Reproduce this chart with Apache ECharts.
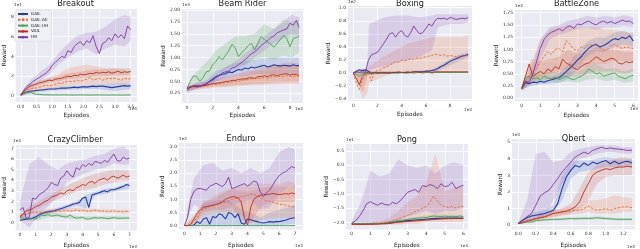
<!DOCTYPE html>
<html><head><meta charset="utf-8">
<script src="https://cdn.jsdelivr.net/npm/echarts@6/dist/echarts.min.js"></script>
<style>html,body{margin:0;padding:0;background:#fff}#c{width:640px;height:249px}</style>
</head><body><div id="c"></div>
<script>
// ---------- shared ----------
const methods = ['GAIL', 'GAIL-AE', 'GAIL-UH', 'VAIL', 'HR'];

// ---------- Breakout (x 1e4, y 1e1) ----------
const breakoutX = [0,0.1,0.2,0.3,0.4,0.5,0.6,0.7,0.8,0.9,1.0,1.1,1.2,1.3,1.4,1.5,1.6,1.7,1.8,1.9,2.0,2.1,2.2,2.3,2.4,2.5,2.6,2.7,2.8,2.9,3.0,3.1,3.2,3.3,3.4,3.5];
const breakoutGAIL = [0.1,0.3,0.4,0.5,0.5,0.55,0.6,0.6,0.65,0.7,0.7,0.72,0.75,0.8,0.8,0.82,0.85,0.9,0.85,0.9,0.95,0.9,0.95,1.0,0.95,1.0,1.0,0.95,0.9,0.85,0.9,0.95,1.0,1.05,1.0,1.05];
const breakoutAE = [0.1,0.4,0.6,0.7,0.8,0.8,0.9,1.0,1.1,1.0,1.1,1.2,1.3,1.25,1.4,1.5,1.45,1.5,1.6,1.5,1.6,1.7,1.9,1.6,1.7,1.8,1.6,1.7,1.8,1.75,1.8,1.7,1.6,1.8,1.7,1.75];
const breakoutUH = [0.1,0.25,0.35,0.4,0.25,0.15,0.15,0.12,0.12,0.11,0.1,0.11,0.1,0.1,0.12,0.1,0.1,0.09,0.1,0.11,0.1,0.1,0.09,0.1,0.1,0.11,0.1,0.1,0.09,0.1,0.1,0.1,0.09,0.1,0.1,0.1];
const breakoutVAIL = [0.1,0.5,0.8,1.0,1.1,1.2,1.35,1.4,1.5,1.6,1.55,1.7,1.75,1.8,1.9,2.0,1.95,2.1,2.05,2.2,2.15,2.2,2.3,2.25,2.4,2.3,2.4,2.35,2.45,2.3,2.4,2.5,2.35,2.45,2.4,2.5];
const breakoutHR = [0.1,0.6,1.0,1.2,1.5,1.7,1.9,2.1,2.3,2.6,3.1,3.4,3.7,4.0,3.9,4.6,4.4,5.0,5.3,5.5,5.1,5.6,5.4,6.1,5.0,4.3,5.3,5.5,5.9,5.6,6.3,5.9,6.2,5.8,7.1,6.7];
const breakoutBandX = [0,0.3,0.6,0.9,1.2,1.5,1.8,2.1,2.4,2.7,3.0,3.3,3.5];
const breakoutGAILLo = [0,0.3,0.4,0.5,0.55,0.6,0.65,0.7,0.7,0.6,0.5,0.6,0.7];
const breakoutGAILHi = [0.2,0.6,0.7,0.8,0.9,1.0,1.05,1.1,1.2,1.2,1.3,1.3,1.3];
const breakoutAELo = [0,0.3,0.5,0.7,0.8,1.0,1.1,1.1,1.2,1.2,1.2,1.2,1.3];
const breakoutAEHi = [0.2,1.2,1.6,1.9,2.2,2.8,3.0,3.2,3.0,2.8,2.8,2.6,2.4];
const breakoutUHLo = [0,0.2,0.1,0.05,0.05,0.05,0.05,0.05,0.05,0.05,0.05,0.05,0.05];
const breakoutUHHi = [0.2,0.45,0.25,0.2,0.18,0.18,0.17,0.17,0.16,0.16,0.16,0.16,0.16];
const breakoutVAILLo = [0,0.7,1.1,1.4,1.5,1.7,1.8,1.9,2.0,2.0,2.1,2.1,2.2];
const breakoutVAILHi = [0.2,1.0,1.5,1.8,2.0,2.3,2.4,2.6,2.7,2.7,2.8,2.8,2.8];
const breakoutHRLo = [0,0.9,1.5,2.2,3.2,3.9,4.5,4.8,4.2,4.8,5.2,5.0,5.6];
const breakoutHRHi = [0.2,1.6,2.4,3.1,4.3,5.3,6.1,6.4,6.5,7.0,7.8,8.2,8.0];
const breakoutXTicks = [0,0.5,1,1.5,2,2.5,3,3.5];
const breakoutYTicks = [0,2,4,6,8];

// ---------- Beam Rider (x 1e3, y 1e3) ----------
const beamX = [0,0.25,0.5,0.75,1,1.25,1.5,1.75,2,2.25,2.5,2.75,3,3.25,3.5,3.75,4,4.25,4.5,4.75,5,5.25,5.5,5.75,6,6.25,6.5,6.75,7,7.25,7.5,7.75,8,8.25,8.5,8.7];
const beamGAIL = [0.35,0.38,0.4,0.38,0.4,0.42,0.45,0.5,0.55,0.6,0.63,0.65,0.66,0.7,0.68,0.72,0.75,0.74,0.78,0.76,0.8,0.78,0.8,0.82,0.84,0.8,0.82,0.85,0.83,0.82,0.84,0.83,0.82,0.85,0.83,0.83];
const beamAE = [0.35,0.37,0.38,0.38,0.39,0.4,0.4,0.42,0.43,0.44,0.45,0.46,0.47,0.48,0.49,0.5,0.5,0.52,0.53,0.54,0.55,0.56,0.56,0.57,0.58,0.57,0.59,0.6,0.59,0.61,0.6,0.62,0.61,0.6,0.62,0.6];
const beamUH = [0.35,0.5,0.62,0.6,0.5,0.58,0.7,0.72,0.85,0.92,1.02,0.95,1.05,1.15,1.28,1.2,1.02,1.1,1.17,1.25,1.3,1.16,1.3,1.44,1.38,1.33,1.28,1.22,1.3,1.38,1.47,1.4,1.23,1.4,1.42,1.44];
const beamVAIL = [0.35,0.38,0.4,0.4,0.4,0.42,0.42,0.44,0.45,0.46,0.47,0.48,0.5,0.5,0.52,0.52,0.54,0.55,0.55,0.57,0.58,0.56,0.6,0.6,0.62,0.6,0.63,0.64,0.62,0.64,0.65,0.66,0.63,0.65,0.64,0.63];
const beamHR = [0.3,0.38,0.4,0.42,0.4,0.43,0.45,0.5,0.52,0.58,0.62,0.68,0.7,0.72,0.78,0.8,0.85,0.9,0.95,1.02,1.08,1.12,1.18,1.25,1.3,1.35,1.42,1.45,1.52,1.55,1.58,1.6,1.72,1.68,1.78,1.63];
const beamBandX = [0,0.75,1.5,2.25,3,3.75,4.5,5.25,6,6.75,7.5,8.1,8.7];
const beamGAILLo = [0.3,0.35,0.4,0.5,0.55,0.6,0.62,0.65,0.65,0.65,0.65,0.65,0.65];
const beamGAILHi = [0.4,0.45,0.52,0.72,0.8,0.88,0.92,0.95,0.98,1.0,1.0,1.0,1.0];
const beamAELo = [0.3,0.32,0.35,0.37,0.38,0.4,0.42,0.42,0.43,0.44,0.45,0.45,0.45];
const beamAEHi = [0.4,0.42,0.45,0.5,0.55,0.6,0.65,0.7,0.75,0.8,0.82,0.85,0.82];
const beamUHLo = [0.3,0.45,0.5,0.65,0.75,0.85,0.85,0.95,1.0,0.95,1.05,1.0,1.1];
const beamUHHi = [0.4,0.7,0.9,1.15,1.3,1.45,1.45,1.5,1.7,1.6,1.8,1.75,1.8];
const beamVAILLo = [0.3,0.35,0.37,0.4,0.4,0.42,0.42,0.45,0.45,0.47,0.48,0.48,0.48];
const beamVAILHi = [0.4,0.45,0.5,0.55,0.6,0.65,0.7,0.75,0.8,0.85,0.88,0.9,0.88];
const beamHRLo = [0.25,0.35,0.4,0.5,0.6,0.72,0.85,1.0,1.15,1.3,1.4,1.5,1.45];
const beamHRHi = [0.35,0.48,0.52,0.65,0.8,0.92,1.08,1.25,1.45,1.6,1.75,1.9,1.85];
const beamXTicks = [0,2,4,6,8];
const beamYTicks = [0.25,0.5,0.75,1,1.25,1.5,1.75,2];

// ---------- Boxing (x 1e3, y 1e2) ----------
const boxingX = [0,0.25,0.5,0.75,1,1.25,1.5,1.75,2,2.25,2.5,2.75,3,3.25,3.5,3.75,4,4.25,4.5,4.75,5,5.25,5.5,5.75,6,6.25,6.5,6.75,7,7.25,7.5,7.75,8,8.25,8.5,8.75,9,9.25,9.5];
const boxingGAIL = [0,0.03,0.05,0.04,0.05,0.03,0.0,0.01,0.0,0.01,0.0,0.01,0.0,0.01,0.01,0.01,0.01,0.01,0.01,0.01,0.02,0.02,0.02,0.02,0.03,0.03,0.04,0.05,0.07,0.1,0.12,0.15,0.18,0.2,0.22,0.24,0.26,0.27,0.29];
const boxingAE = [0,-0.15,-0.25,-0.1,-0.05,0.0,-0.12,0.02,0.04,0.05,0.08,0.1,0.12,0.15,0.18,0.17,0.2,0.19,0.2,0.22,0.21,0.23,0.22,0.24,0.25,0.26,0.27,0.29,0.28,0.27,0.28,0.26,0.27,0.26,0.25,0.26,0.25,0.26,0.27];
const boxingUH = [0,-0.02,-0.05,0.0,-0.02,0,0,0,0,0,0,0,0.01,0,0,0,0.01,0,0,0.01,0,0.01,0.01,0,0.01,0.01,0,0.01,0.01,0.01,0.01,0.01,0.01,0.01,0.01,0.01,0.01,0.01,0.01];
const boxingVAIL = [0,-0.08,-0.18,-0.05,0.0,0.01,-0.02,0.01,0.0,0.01,0.01,0.0,0.01,0.01,0.01,0.02,0.01,0.01,0.02,0.01,0.02,0.02,0.01,0.02,0.02,0.02,0.01,0.02,0.02,0.02,0.02,0.02,0.02,0.02,0.02,0.02,0.02,0.02,0.02];
const boxingHR = [0,0.02,0.01,0.02,0.01,0.2,0.28,0.3,0.32,0.38,0.45,0.52,0.6,0.62,0.55,0.62,0.65,0.58,0.55,0.62,0.72,0.65,0.6,0.62,0.68,0.75,0.72,0.8,0.84,0.83,0.84,0.82,0.85,0.84,0.82,0.83,0.84,0.83,0.85];
const boxingBandX = [0,0.8,1.15,1.3,2.5,3.5,4.5,5.5,6.5,7.0,8.0,9.0,9.5];
const boxingGAILLo = [0,0.02,0.0,0,0,0,0,0,0.01,0.03,0.12,0.2,0.25];
const boxingGAILHi = [0.01,0.07,0.05,0.02,0.02,0.02,0.02,0.03,0.06,0.1,0.22,0.3,0.32];
const boxingAELo = [0,-0.4,-0.3,-0.15,-0.05,0.02,0.03,0.03,0.05,0.05,0.05,0.05,0.05];
const boxingAEHi = [0.02,0.05,0.08,0.1,0.25,0.35,0.45,0.5,0.55,0.55,0.55,0.55,0.58];
const boxingUHLo = [0,-0.06,-0.02,-0.01,-0.01,-0.01,-0.01,0,0,0,0,0,0];
const boxingUHHi = [0.01,0.02,0.02,0.02,0.02,0.02,0.02,0.02,0.02,0.02,0.02,0.02,0.02];
const boxingVAILLo = [0,-0.3,-0.05,-0.02,-0.01,0,0,0,0,0,0,0,0];
const boxingVAILHi = [0.01,0.02,0.03,0.03,0.03,0.03,0.04,0.04,0.04,0.04,0.04,0.04,0.04];
const boxingHRLo = [0,0,0,0.05,0.1,0.15,0.2,0.25,0.35,0.7,0.75,0.75,0.78];
const boxingHRHi = [0.03,0.03,0.05,0.75,0.85,0.88,0.88,0.85,0.88,0.9,0.9,0.9,0.9];
const boxingXTicks = [0,2,4,6,8];
const boxingYTicks = [-0.4,-0.2,0,0.2,0.4,0.6,0.8,1.0];

// ---------- BattleZone (x 1e3, y 1e4) ----------
const battleX = [0,0.2,0.4,0.6,0.8,1.0,1.2,1.4,1.6,1.8,2.0,2.2,2.4,2.6,2.8,3.0,3.2,3.4,3.6,3.8,4.0,4.2,4.4,4.6,4.8,5.0,5.2,5.4,5.6,5.8,6.0];
const battleGAIL = [0.2,0.32,0.3,0.33,0.32,0.35,0.33,0.36,0.38,0.4,0.42,0.48,0.55,0.62,0.7,0.78,0.85,0.95,1.02,1.08,1.1,1.05,1.08,1.12,1.18,1.22,1.2,1.25,1.22,1.28,1.17];
const battleAE = [0.2,0.35,0.45,0.55,0.6,0.75,0.85,0.95,0.9,1.0,1.02,0.95,1.18,1.1,1.0,0.98,1.05,1.02,1.1,1.08,1.12,1.05,0.98,1.0,1.08,1.1,1.05,1.02,1.05,1.03,1.02];
const battleUH = [0.2,0.42,0.45,0.4,0.42,0.38,0.45,0.42,0.4,0.43,0.38,0.42,0.45,0.4,0.38,0.42,0.45,0.5,0.6,0.55,0.5,0.52,0.45,0.48,0.5,0.52,0.45,0.42,0.4,0.45,0.47];
const battleVAIL = [0.2,0.45,0.7,0.45,0.5,0.55,0.5,0.6,0.55,0.65,0.6,0.8,0.72,0.68,0.62,0.58,0.65,0.7,0.72,0.78,0.85,0.8,0.75,0.78,0.82,0.8,0.72,0.7,0.75,0.73,0.75];
const battleHR = [0.2,0.35,0.33,0.5,0.75,1.02,1.2,1.3,1.35,1.38,1.42,1.38,1.45,1.48,1.43,1.52,1.5,1.55,1.58,1.53,1.5,1.55,1.58,1.54,1.57,1.53,1.56,1.6,1.57,1.58,1.53];
const battleBandX = [0,0.5,1,1.5,2,2.5,3,3.5,4,4.5,5,5.5,6];
const battleGAILLo = [0.18,0.25,0.28,0.3,0.32,0.4,0.6,0.85,0.95,0.95,1.05,1.1,1.05];
const battleGAILHi = [0.22,0.35,0.4,0.42,0.5,0.7,0.95,1.15,1.25,1.25,1.35,1.38,1.3];
const battleAELo = [0.15,0.3,0.4,0.5,0.55,0.6,0.6,0.65,0.7,0.7,0.75,0.75,0.75];
const battleAEHi = [0.25,0.7,1.2,1.4,1.45,1.5,1.45,1.45,1.45,1.4,1.4,1.35,1.35];
const battleUHLo = [0.15,0.35,0.32,0.35,0.32,0.35,0.32,0.38,0.4,0.35,0.38,0.32,0.35];
const battleUHHi = [0.25,0.55,0.5,0.55,0.52,0.55,0.55,0.65,0.7,0.6,0.62,0.55,0.6];
const battleVAILLo = [0.15,0.35,0.4,0.4,0.42,0.45,0.45,0.5,0.55,0.55,0.55,0.5,0.55];
const battleVAILHi = [0.25,0.8,0.75,0.8,0.85,1.0,0.9,0.95,1.05,1.0,1.0,0.95,0.95];
const battleHRLo = [0.18,0.28,0.8,1.2,1.3,1.35,1.42,1.45,1.4,1.45,1.45,1.48,1.45];
const battleHRHi = [0.22,0.55,1.2,1.45,1.5,1.58,1.62,1.68,1.65,1.68,1.65,1.7,1.65];
const battleXTicks = [0,1,2,3,4,5,6];
const battleYTicks = [0,0.25,0.5,0.75,1,1.25,1.5,1.75];

// ---------- CrazyClimber (x 1e3, y 1e4) ----------
const crazyX = [0,0.2,0.4,0.6,0.8,1.0,1.2,1.4,1.6,1.8,2.0,2.2,2.4,2.6,2.8,3.0,3.2,3.4,3.6,3.8,4.0,4.2,4.4,4.6,4.8,5.0,5.2,5.4,5.6,5.8,6.0,6.2,6.4,6.6,6.8,7.0];
const crazyGAIL = [0.2,0.25,0.3,0.35,0.4,0.5,0.7,0.85,0.95,1.0,1.05,1.1,1.2,1.3,1.4,1.5,1.6,1.75,1.8,1.9,2.3,2.4,1.4,2.6,2.7,2.8,2.9,3.0,2.9,3.1,3.1,3.2,3.3,3.4,3.6,3.5];
const crazyAE = [0.6,0.7,0.8,0.9,0.95,1.0,0.9,0.95,1.0,1.05,1.1,1.0,1.1,1.05,1.1,1.15,1.05,1.1,1.2,1.1,1.15,1.1,1.05,1.1,1.15,1.1,1.05,1.1,1.0,1.05,1.1,1.0,1.05,1.0,1.05,1.0];
const crazyUH = [0.5,0.4,0.35,0.3,0.35,0.3,0.5,0.7,0.65,0.75,0.6,0.65,0.7,0.6,0.55,0.5,0.7,0.5,0.4,0.45,0.5,0.35,0.3,0.4,0.45,0.4,0.45,0.4,0.35,0.4,0.45,0.4,0.38,0.4,0.42,0.4];
const crazyVAIL = [0.5,0.8,1.1,1.2,1.3,1.5,1.6,1.8,2.0,2.1,2.4,2.5,2.6,2.8,2.7,3.0,3.1,3.0,3.3,3.4,3.6,3.5,3.8,3.9,3.7,4.0,4.1,4.2,4.0,4.3,4.4,4.2,4.3,4.5,4.3,4.4];
const crazyHR = [1.2,1.4,0.4,0.5,2.3,2.2,2.6,2.8,3.0,3.3,3.8,3.6,3.5,4.2,4.4,4.9,4.5,4.3,5.2,5.0,5.5,5.3,5.6,5.4,5.8,5.7,5.6,5.9,5.7,6.1,6.5,5.9,5.8,6.2,6.0,6.1];
const crazyBandX = [0,0.6,1.2,1.8,2.4,3.0,3.6,4.2,4.8,5.4,6.0,6.6,7.0];
const crazyGAILLo = [0.1,0.25,0.5,0.8,1.0,1.3,1.6,1.3,2.5,2.7,2.9,3.1,3.2];
const crazyGAILHi = [0.3,0.45,0.8,1.2,1.4,1.7,2.0,2.6,2.9,3.2,3.3,3.6,3.8];
const crazyAELo = [0.4,0.7,0.75,0.85,0.9,0.95,1.0,0.9,0.95,0.9,0.9,0.85,0.85];
const crazyAEHi = [0.8,1.1,1.1,1.25,1.3,1.35,1.4,1.3,1.3,1.25,1.25,1.2,1.2];
const crazyUHLo = [0.3,0.15,0.2,0.5,0.5,0.35,0.3,0.25,0.3,0.3,0.3,0.3,0.3];
const crazyUHHi = [0.7,0.5,0.7,1.0,0.9,0.8,0.6,0.55,0.6,0.55,0.6,0.55,0.55];
const crazyVAILLo = [0.3,0.9,1.3,1.8,2.2,2.6,2.9,3.1,3.3,3.6,3.8,3.9,3.9];
const crazyVAILHi = [0.7,1.5,2.0,2.5,3.0,3.5,3.9,4.3,4.6,4.8,5.0,5.0,4.9];
const crazyHRLo = [0.2,-0.5,0.8,1.5,2.5,3.8,4.3,4.7,5.0,5.2,5.6,5.5,5.5];
const crazyHRHi = [2.0,5.5,6.2,5.5,5.0,5.6,5.8,6.0,6.3,6.5,7.0,7.2,6.8];
const crazyXTicks = [0,1,2,3,4,5,6,7];
const crazyYTicks = [0,1,2,3,4,5,6,7];

// ---------- Enduro (x 1e3, y 1e2) ----------
const enduroX = [0,0.2,0.4,0.6,0.8,1.0,1.2,1.4,1.6,1.8,2.0,2.2,2.4,2.6,2.8,3.0,3.2,3.4,3.6,3.8,4.0,4.2,4.4,4.6,4.8,5.0,5.2,5.4,5.6,5.8,6.0,6.2,6.4,6.6,6.8,7.0];
const enduroGAIL = [0,0,0,0.02,0.15,0.08,0.25,0.3,0.05,0.35,0.3,0.45,0.4,0.25,0.5,0.45,0.3,0.45,0.1,0.05,0.25,0.22,0.18,0.15,0.12,0.1,0.12,0.15,0.13,0.15,0.15,0.18,0.2,0.25,0.28,0.3];
const enduroAE = [0,0,0.02,0.15,0.3,0.5,0.62,0.68,0.72,0.75,0.8,0.82,0.88,0.9,0.95,1.0,1.02,1.05,1.1,1.12,1.15,1.2,1.18,1.15,1.1,1.0,0.95,0.92,0.88,0.85,0.82,0.8,0.78,0.75,0.72,0.7];
const enduroUH = [0,0,0,0,0,0,0,0,0,0,0,0,0,0,0,0,0,0,0,0,0,0,0,0,0,0,0,0,0,0,0,0,0,0,0,0];
const enduroVAIL = [0,0,0.05,0.25,0.45,0.6,0.7,0.72,0.75,0.78,0.8,0.85,0.9,1.0,1.05,1.1,1.1,1.05,0.9,0.3,0.02,0.7,1.0,1.1,1.15,1.2,1.18,1.2,1.22,1.2,1.18,1.2,1.22,1.2,1.25,1.2];
const enduroHR = [0,0.3,1.0,1.3,1.4,1.42,1.38,1.35,1.5,1.55,1.62,1.55,1.48,1.6,1.85,1.42,1.45,1.5,1.55,1.6,1.5,1.6,1.7,1.65,1.3,1.1,1.25,1.35,1.55,1.75,1.9,2.0,2.05,2.15,2.25,2.2];
const enduroBandX = [0,0.6,1.2,1.8,2.4,3.0,3.6,4.2,4.8,5.4,6.0,6.6,7.0];
const enduroGAILLo = [0,0,0,0,0,0,0,0,0,0,0,0.05,0.05];
const enduroGAILHi = [0,0.05,0.8,0.9,1.0,0.9,0.6,0.5,0.3,0.5,0.6,0.7,0.8];
const enduroAELo = [0,0.05,0.4,0.45,0.5,0.5,0.4,0.1,0.2,0.3,0.3,0.3,0.3];
const enduroAEHi = [0,0.3,0.9,1.1,1.3,1.4,1.5,1.6,1.6,1.6,1.6,1.7,1.6];
const enduroUHLo = [0,0,0,0,0,0,0,0,0,0,0,0,0];
const enduroUHHi = [0.02,0.02,0.02,0.02,0.02,0.02,0.02,0.02,0.02,0.02,0.02,0.02,0.02];
const enduroVAILLo = [0,0.1,0.5,0.6,0.6,0.7,0.2,0.1,0.7,0.9,0.9,0.9,0.9];
const enduroVAILHi = [0,0.4,0.9,1.0,1.2,1.4,1.3,1.3,1.4,1.5,1.5,1.5,1.5];
const enduroHRLo = [0,0.8,0.6,0.8,0.9,0.8,0.9,1.0,0.6,0.7,1.2,1.5,1.4];
const enduroHRHi = [0.05,1.8,2.3,2.4,2.1,2.2,2.0,2.2,2.0,2.2,2.8,3.0,2.9];
const enduroXTicks = [0,1,2,3,4,5,6,7];
const enduroYTicks = [0,0.5,1,1.5,2,2.5,3];

// ---------- Pong (x 1e3, y 1e1) ----------
const pongX = [0,0.2,0.4,0.6,0.8,1.0,1.2,1.4,1.6,1.8,2.0,2.2,2.4,2.6,2.8,3.0,3.2,3.4,3.6,3.8,4.0,4.2,4.4,4.6,4.8,5.0,5.2,5.4,5.6,5.8,6.0];
const pongGAIL = [-2.05,-2.05,-2.05,-2.06,-2.05,-2.05,-2.05,-2.05,-2.04,-2.04,-2.02,-2.0,-1.98,-1.97,-1.95,-1.94,-1.93,-1.92,-1.91,-1.9,-1.89,-1.88,-1.87,-1.86,-1.86,-1.85,-1.85,-1.85,-1.85,-1.86,-1.86];
const pongAE = [-2.05,-2.05,-2.05,-2.04,-2.05,-2.04,-2.03,-2.03,-2.02,-2.0,-1.98,-1.95,-1.9,-1.85,-1.8,-1.75,-1.7,-1.62,-1.58,-1.5,-1.45,-1.3,-1.08,-1.25,-1.4,-1.45,-1.48,-1.45,-1.5,-1.45,-1.45];
const pongUH = [-2.05,-2.05,-2.05,-2.05,-2.05,-2.05,-2.05,-2.04,-2.04,-2.03,-2.0,-1.98,-1.95,-1.93,-1.92,-1.9,-1.88,-1.86,-1.85,-1.84,-1.83,-1.8,-1.78,-1.79,-1.8,-1.78,-1.8,-1.79,-1.8,-1.78,-1.8];
const pongVAIL = [-2.07,-2.07,-2.08,-2.07,-2.07,-2.07,-2.06,-2.06,-2.05,-2.05,-2.04,-2.02,-2.0,-1.99,-1.98,-1.97,-1.96,-1.95,-1.94,-1.93,-1.92,-1.91,-1.9,-1.89,-1.88,-1.88,-1.87,-1.87,-1.86,-1.86,-1.86];
const pongHR = [-2.02,-1.95,-1.8,-1.6,-1.35,-1.28,-1.35,-1.4,-1.32,-1.38,-1.4,-1.3,-1.35,-1.25,-1.1,-0.95,-0.9,-0.85,-0.95,-0.72,-0.75,-0.68,-0.72,-0.82,-0.65,-0.75,-0.72,-0.6,-0.82,-0.75,-0.7];
const pongBandX = [0,0.5,1.0,1.5,2.0,2.5,3.0,3.5,4.0,4.5,5.0,5.5,6.0];
const pongGAILLo = [-2.08,-2.08,-2.08,-2.07,-2.05,-2.02,-1.97,-1.95,-1.92,-1.9,-1.88,-1.88,-1.89];
const pongGAILHi = [-2.02,-2.02,-2.02,-2.01,-1.99,-1.95,-1.91,-1.88,-1.86,-1.83,-1.82,-1.82,-1.83];
const pongAELo = [-2.08,-2.08,-2.08,-2.08,-2.08,-2.08,-2.05,-2.05,-2.0,-2.0,-2.0,-2.0,-2.0];
const pongAEHi = [-2.02,-2.02,-2.0,-1.98,-1.85,-1.6,-1.3,-1.1,-0.6,0.4,-0.9,-0.8,-0.7];
const pongUHLo = [-2.08,-2.08,-2.08,-2.07,-2.05,-2.0,-1.96,-1.92,-1.9,-1.86,-1.84,-1.85,-1.85];
const pongUHHi = [-2.02,-2.02,-2.02,-2.0,-1.95,-1.88,-1.84,-1.8,-1.76,-1.72,-1.72,-1.73,-1.74];
const pongVAILLo = [-2.1,-2.1,-2.1,-2.09,-2.07,-2.04,-2.0,-1.98,-1.95,-1.92,-1.9,-1.9,-1.89];
const pongVAILHi = [-2.04,-2.04,-2.04,-2.03,-2.01,-1.98,-1.94,-1.91,-1.89,-1.86,-1.84,-1.84,-1.83];
const pongHRLo = [-2.05,-2.05,-2.05,-2.0,-2.05,-1.9,-1.8,-1.7,-1.6,-1.7,-1.6,-1.6,-1.5];
const pongHRHi = [-1.95,-1.3,-0.2,-0.4,-0.3,0.2,0.0,-0.1,0.0,-0.3,0.0,0.1,0.0];
const pongXTicks = [0,1,2,3,4,5,6];
const pongYTicks = [-2,-1.5,-1,-0.5,0,0.5];

// ---------- Qbert (x 1e4, y 1e3) ----------
const qbertX = [0,0.05,0.1,0.15,0.2,0.25,0.3,0.35,0.4,0.45,0.5,0.55,0.6,0.65,0.7,0.75,0.8,0.85,0.9,0.95,1.0,1.05,1.1,1.15,1.2,1.25,1.3];
const qbertGAIL = [0.1,0.3,0.45,0.55,0.6,0.65,0.7,0.8,0.9,1.3,2.2,2.9,3.3,3.6,3.5,3.75,3.6,3.8,3.7,3.8,3.9,3.7,3.85,3.7,3.8,3.85,3.75];
const qbertAE = [0.1,0.2,0.3,0.35,0.4,0.45,0.5,0.6,0.7,0.75,0.8,0.82,0.85,0.9,0.9,1.0,1.15,1.0,0.9,0.95,1.0,0.9,1.0,1.05,1.1,1.1,1.05];
const qbertUH = [0.1,0.15,0.2,0.18,0.28,0.3,0.32,0.33,0.35,0.35,0.36,0.38,0.4,0.38,0.4,0.42,0.4,0.42,0.45,0.42,0.4,0.38,0.36,0.35,0.36,0.35,0.35];
const qbertVAIL = [0.1,0.15,0.25,0.3,0.4,0.45,0.5,0.6,0.7,0.75,0.8,0.85,0.95,1.1,1.4,2.0,2.5,3.0,3.2,3.3,3.4,3.35,3.45,3.5,3.5,3.55,3.5];
const qbertHR = [0.1,0.3,0.5,0.7,1.2,1.75,1.95,2.1,2.45,2.8,3.2,3.5,3.8,4.1,4.25,4.4,4.3,4.5,4.6,4.7,4.6,4.65,4.6,4.58,4.55,4.5,4.52];
const qbertBandX = [0,0.1,0.2,0.3,0.4,0.5,0.6,0.7,0.8,0.9,1.0,1.1,1.2,1.3];
const qbertGAILLo = [0.05,0.4,0.5,0.6,0.7,1.5,2.8,3.2,3.3,3.4,3.5,3.5,3.5,3.5];
const qbertGAILHi = [0.15,0.6,0.8,0.9,1.2,3.0,3.8,3.9,3.9,4.0,4.1,4.0,4.0,4.0];
const qbertAELo = [0.05,0.2,0.3,0.4,0.5,0.6,0.65,0.7,0.8,0.7,0.7,0.7,0.8,0.8];
const qbertAEHi = [0.15,0.4,0.5,0.7,0.9,1.0,1.1,1.1,1.5,1.5,1.6,1.8,1.7,1.6];
const qbertUHLo = [0.05,0.12,0.18,0.25,0.28,0.3,0.32,0.33,0.33,0.35,0.32,0.3,0.28,0.28];
const qbertUHHi = [0.15,0.25,0.3,0.4,0.42,0.45,0.48,0.5,0.5,0.52,0.5,0.45,0.44,0.44];
const qbertVAILLo = [0.05,0.15,0.3,0.4,0.5,0.6,0.7,1.0,1.5,2.5,2.9,3.0,3.0,3.0];
const qbertVAILHi = [0.15,0.3,0.5,0.65,0.9,1.0,1.3,2.2,3.2,3.6,3.8,4.0,4.1,4.0];
const qbertHRLo = [0.05,0.3,0.3,0.5,1.5,2.5,3.2,4.0,4.1,4.3,4.4,4.4,4.3,4.3];
const qbertHRHi = [0.15,1.5,4.3,4.4,3.8,3.9,4.4,4.6,4.7,4.8,4.8,4.8,4.7,4.7];
const qbertXTicks = [0,0.2,0.4,0.6,0.8,1.0,1.2];
const qbertYTicks = [0,1,2,3,4,5];

// ---------- assemble (references to the arrays above) ----------
const charts = [
  {title:'Breakout', xExp:'1e4', yExp:'1e1', x:breakoutX, lines:[breakoutGAIL,breakoutAE,breakoutUH,breakoutVAIL,breakoutHR], bx:breakoutBandX,
   lo:[breakoutGAILLo,breakoutAELo,breakoutUHLo,breakoutVAILLo,breakoutHRLo], hi:[breakoutGAILHi,breakoutAEHi,breakoutUHHi,breakoutVAILHi,breakoutHRHi], xt:breakoutXTicks, yt:breakoutYTicks},
  {title:'Beam Rider', xExp:'1e3', yExp:'1e3', x:beamX, lines:[beamGAIL,beamAE,beamUH,beamVAIL,beamHR], bx:beamBandX,
   lo:[beamGAILLo,beamAELo,beamUHLo,beamVAILLo,beamHRLo], hi:[beamGAILHi,beamAEHi,beamUHHi,beamVAILHi,beamHRHi], xt:beamXTicks, yt:beamYTicks},
  {title:'Boxing', xExp:'1e3', yExp:'1e2', x:boxingX, lines:[boxingGAIL,boxingAE,boxingUH,boxingVAIL,boxingHR], bx:boxingBandX,
   lo:[boxingGAILLo,boxingAELo,boxingUHLo,boxingVAILLo,boxingHRLo], hi:[boxingGAILHi,boxingAEHi,boxingUHHi,boxingVAILHi,boxingHRHi], xt:boxingXTicks, yt:boxingYTicks},
  {title:'BattleZone', xExp:'1e3', yExp:'1e4', x:battleX, lines:[battleGAIL,battleAE,battleUH,battleVAIL,battleHR], bx:battleBandX,
   lo:[battleGAILLo,battleAELo,battleUHLo,battleVAILLo,battleHRLo], hi:[battleGAILHi,battleAEHi,battleUHHi,battleVAILHi,battleHRHi], xt:battleXTicks, yt:battleYTicks},
  {title:'CrazyClimber', xExp:'1e3', yExp:'1e4', x:crazyX, lines:[crazyGAIL,crazyAE,crazyUH,crazyVAIL,crazyHR], bx:crazyBandX,
   lo:[crazyGAILLo,crazyAELo,crazyUHLo,crazyVAILLo,crazyHRLo], hi:[crazyGAILHi,crazyAEHi,crazyUHHi,crazyVAILHi,crazyHRHi], xt:crazyXTicks, yt:crazyYTicks},
  {title:'Enduro', xExp:'1e3', yExp:'1e2', x:enduroX, lines:[enduroGAIL,enduroAE,enduroUH,enduroVAIL,enduroHR], bx:enduroBandX,
   lo:[enduroGAILLo,enduroAELo,enduroUHLo,enduroVAILLo,enduroHRLo], hi:[enduroGAILHi,enduroAEHi,enduroUHHi,enduroVAILHi,enduroHRHi], xt:enduroXTicks, yt:enduroYTicks},
  {title:'Pong', xExp:'1e3', yExp:'1e1', x:pongX, lines:[pongGAIL,pongAE,pongUH,pongVAIL,pongHR], bx:pongBandX,
   lo:[pongGAILLo,pongAELo,pongUHLo,pongVAILLo,pongHRLo], hi:[pongGAILHi,pongAEHi,pongUHHi,pongVAILHi,pongHRHi], xt:pongXTicks, yt:pongYTicks},
  {title:'Qbert', xExp:'1e4', yExp:'1e3', x:qbertX, lines:[qbertGAIL,qbertAE,qbertUH,qbertVAIL,qbertHR], bx:qbertBandX,
   lo:[qbertGAILLo,qbertAELo,qbertUHLo,qbertVAILLo,qbertHRLo], hi:[qbertGAILHi,qbertAEHi,qbertUHHi,qbertVAILHi,qbertHRHi], xt:qbertXTicks, yt:qbertYTicks}
];

// ---------- layout & style ----------
// [left, top, right, bottom, xmin, xmax, ymin, ymax, yNameGap, xNameGap, titleY, yExpY, xExpY, xDec, yDec]
const layout = [
  [14, 9, 137, 102, -0.16, 3.7, -0.61, 8.81, 5.5, 3.5, 4, 4.5, 108.5, 1, 0],
  [182, 9, 303, 103, -0.39, 9.01, 0.046, 2.02, 11.5, 2.5, 4, 4.5, 109, 0, 2],
  [348, 6, 472, 101, -0.44, 9.82, -0.426, 1.026, 12.5, 4, 4, 4, 109.5, 0, 1],
  [515, 10, 638, 101, -0.36, 6.25, -0.055, 1.805, 13.5, 5, 4, 6, 108.5, 0, 2],
  [13, 145, 137, 237, -0.27, 7.48, -0.77, 7.35, 5.5, 5, 140, 140.5, 246.5, 0, 0],
  [179, 143, 303, 236, -0.34, 7.51, -0.15, 3.15, 5.5, 6, 139, 139.5, 245.5, 0, 1],
  [346, 144, 468, 236, -0.31, 6.25, -2.25, 0.74, 12.5, 6, 140, 140.5, 245.5, 0, 1],
  [512, 139, 635, 236, -0.072, 1.334, -0.26, 5.19, 6.5, 6, 139, 135.5, 246.5, 1, 0]
];
layout[7][11] = 135;
const FONT = 'DejaVu Sans';
const lineColors = ['#2a3c9e', '#dd6a35', '#4d9e57', '#b3311d', '#7a3b9b'];
const bandColors = ['rgba(76,110,190,0.22)', 'rgba(235,140,100,0.25)', 'rgba(110,180,120,0.25)', 'rgba(205,100,85,0.22)', 'rgba(160,120,200,0.25)'];
const lineTypes = ['solid', [2.5, 1.5], 'solid', 'solid', 'solid'];
const lineWidths = [1.1, 0.9, 0.9, 0.9, 0.9];
const TICK_FS = 4.5, NAME_FS = 5.8, TITLE_FS = 8.2, EXP_FS = 4.2;

function fmt(d) {
  return v => (v < 0 ? '\u2212' : '') + Math.abs(v).toFixed(d);
}

const grids = [], xAxes = [], yAxes = [], series = [], titles = [], graphics = [];
charts.forEach((c, i) => {
  const [l, t, r, b, xmin, xmax, ymin, ymax, yng, xng, ty, yey0, xey, xd, yd] = layout[i];
  const yey = t - 4.5;
  grids.push({left: l, top: t, width: r - l, height: b - t, show: true, backgroundColor: '#eaeaf2', borderWidth: 0, containLabel: false});
  xAxes.push({
    gridIndex: i, type: 'value', min: xmin, max: xmax,
    axisLine: {show: false}, axisTick: {show: false, customValues: c.xt},
    axisLabel: {customValues: c.xt, formatter: fmt(xd), fontSize: TICK_FS, color: '#333', margin: 2, fontFamily: FONT},
    splitLine: {show: true, lineStyle: {color: '#ffffff', width: 0.8}},
    name: 'Episodes', nameLocation: 'middle', nameGap: xng + TICK_FS + 2,
    nameTextStyle: {fontSize: NAME_FS, color: '#222', fontFamily: FONT}
  });
  yAxes.push({
    gridIndex: i, type: 'value', min: ymin, max: ymax,
    axisLine: {show: false}, axisTick: {show: false, customValues: c.yt},
    axisLabel: {customValues: c.yt, formatter: fmt(yd), fontSize: TICK_FS, color: '#333', margin: 2, fontFamily: FONT},
    splitLine: {show: true, lineStyle: {color: '#ffffff', width: 0.8}},
    name: 'Reward', nameLocation: 'middle', nameGap: yng,
    nameTextStyle: {fontSize: NAME_FS, color: '#222', fontFamily: FONT}
  });
  titles.push({text: c.title, left: (l + r) / 2, top: ty - TITLE_FS / 2 - 0.5, textAlign: 'center',
    textStyle: {fontSize: TITLE_FS, fontWeight: 'normal', color: '#222', fontFamily: FONT}, padding: 0});
  graphics.push({type: 'text', x: l, y: yey, silent: true,
    style: {text: c.yExp, fontSize: EXP_FS, fill: '#333', fontFamily: FONT, align: 'left', verticalAlign: 'middle'}});
  graphics.push({type: 'text', x: r, y: xey, silent: true,
    style: {text: c.xExp, fontSize: EXP_FS, fill: '#333', fontFamily: FONT, align: 'right', verticalAlign: 'middle'}});

  // confidence bands
  c.lines.forEach((ys, j) => {
    const pts = c.bx.map((x, k) => [x, c.lo[j][k], c.hi[j][k]]);
    series.push({
      type: 'custom', name: 'band', xAxisIndex: i, yAxisIndex: i, silent: true, z: 1, clip: true,
      data: pts, encode: {x: 0, y: [1, 2]},
      renderItem: (params, api) => {
        if (params.dataIndex !== 0) return null;
        const up = pts.map(p => api.coord([p[0], p[2]]));
        const dn = pts.map(p => api.coord([p[0], p[1]])).reverse();
        return {type: 'polygon', shape: {points: up.concat(dn)}, style: {fill: bandColors[j]}};
      }
    });
  });
  // mean lines
  c.lines.forEach((ys, j) => {
    series.push({
      type: 'line', name: methods[j], xAxisIndex: i, yAxisIndex: i, silent: true, z: 2,
      data: c.x.map((x, k) => [x, ys[k]]), symbol: 'none', showSymbol: false, clip: true,
      lineStyle: {color: lineColors[j], width: lineWidths[j], type: lineTypes[j]},
      itemStyle: {color: lineColors[j]}
    });
  });
});

const chart = echarts.init(document.getElementById('c'), null, {renderer: 'canvas'});
chart.setOption({
  animation: false,
  backgroundColor: '#ffffff',
  title: titles,
  grid: grids, xAxis: xAxes, yAxis: yAxes,
  legend: {
    data: methods, orient: 'vertical', left: 15, top: 10,
    itemWidth: 10, itemHeight: 3, itemGap: 1.8, padding: [2, 3, 2, 2],
    textStyle: {fontSize: 4.2, color: '#222', fontFamily: FONT, padding: [0, 0, 0, -2]},
    backgroundColor: 'rgba(240,240,246,0.9)', borderColor: '#d4d4dc', borderWidth: 0.5, borderRadius: 1,
    selectedMode: false
  },
  graphic: graphics,
  series: series
});
</script></body></html>
